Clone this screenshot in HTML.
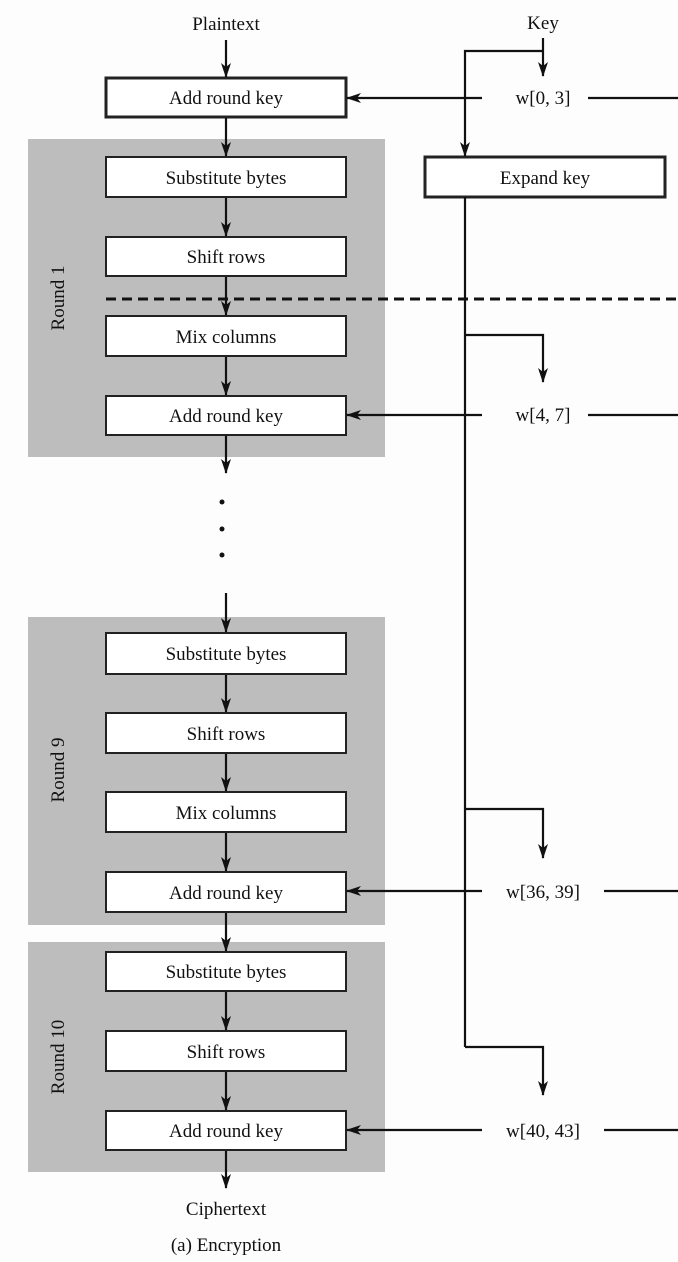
<!DOCTYPE html>
<html><head><meta charset="utf-8"><style>
html,body{margin:0;padding:0;background:#fdfdfd;}
svg{display:block;}
text{font-family:"Liberation Serif",serif;font-size:19px;fill:#111;}
</style></head><body>
<svg width="678" height="1262" viewBox="0 0 678 1262" xmlns="http://www.w3.org/2000/svg">
<defs>
<marker id="a" markerWidth="15" markerHeight="11" refX="14" refY="5.5" orient="auto" markerUnits="userSpaceOnUse" viewBox="0 0 15 11">
<path d="M0,0.5 L15,5.5 L0,10.5 L4,5.5 Z" fill="#111"/></marker>
</defs>
<rect width="678" height="1262" fill="#fdfdfd"/>
<rect x="28" y="139" width="357" height="318" fill="#bdbdbd"/>
<rect x="28" y="617" width="357" height="308" fill="#bdbdbd"/>
<rect x="28" y="942" width="357" height="230" fill="#bdbdbd"/>
<g fill="#111">
<text x="226" y="30" text-anchor="middle">Plaintext</text>
<text x="543" y="29" text-anchor="middle">Key</text>
<text x="226" y="1215" text-anchor="middle">Ciphertext</text>
<text x="226" y="1251" text-anchor="middle">(a) Encryption</text>
<text x="543" y="104" text-anchor="middle">w[0, 3]</text>
<text x="543" y="421" text-anchor="middle">w[4, 7]</text>
<text x="543" y="898" text-anchor="middle">w[36, 39]</text>
<text x="543" y="1137" text-anchor="middle">w[40, 43]</text>
<text transform="translate(64,298) rotate(-90)" text-anchor="middle">Round 1</text>
<text transform="translate(64,770) rotate(-90)" text-anchor="middle">Round 9</text>
<text transform="translate(64,1057) rotate(-90)" text-anchor="middle">Round 10</text>
</g>
<g stroke="#222" fill="#fff">
<rect x="106" y="78" width="240" height="39" stroke-width="3"/>
<rect x="425" y="157" width="240" height="40" stroke-width="3"/>
<rect x="106" y="157" width="240" height="40" stroke-width="2"/>
<rect x="106" y="237" width="240" height="39" stroke-width="2"/>
<rect x="106" y="316" width="240" height="40" stroke-width="2"/>
<rect x="106" y="396" width="240" height="39" stroke-width="2"/>
<rect x="106" y="633" width="240" height="41" stroke-width="2"/>
<rect x="106" y="713" width="240" height="40" stroke-width="2"/>
<rect x="106" y="792" width="240" height="40" stroke-width="2"/>
<rect x="106" y="872" width="240" height="40" stroke-width="2"/>
<rect x="106" y="952" width="240" height="39" stroke-width="2"/>
<rect x="106" y="1031" width="240" height="40" stroke-width="2"/>
<rect x="106" y="1111" width="240" height="39" stroke-width="2"/>
</g>
<g text-anchor="middle">
<text x="226" y="104">Add round key</text>
<text x="545" y="184">Expand key</text>
<text x="226" y="184">Substitute bytes</text>
<text x="226" y="263">Shift rows</text>
<text x="226" y="343">Mix columns</text>
<text x="226" y="422">Add round key</text>
<text x="226" y="660">Substitute bytes</text>
<text x="226" y="740">Shift rows</text>
<text x="226" y="819">Mix columns</text>
<text x="226" y="899">Add round key</text>
<text x="226" y="978">Substitute bytes</text>
<text x="226" y="1058">Shift rows</text>
<text x="226" y="1137">Add round key</text>
</g>
<g stroke="#111" stroke-width="2.2" fill="none" marker-end="url(#a)">
<line x1="226" y1="40" x2="226" y2="77"/>
<line x1="226" y1="118" x2="226" y2="156"/>
<line x1="226" y1="198" x2="226" y2="236"/>
<line x1="226" y1="277" x2="226" y2="315"/>
<line x1="226" y1="357" x2="226" y2="395"/>
<line x1="226" y1="436" x2="226" y2="473"/>
<line x1="226" y1="593" x2="226" y2="632"/>
<line x1="226" y1="675" x2="226" y2="712"/>
<line x1="226" y1="754" x2="226" y2="791"/>
<line x1="226" y1="833" x2="226" y2="871"/>
<line x1="226" y1="913" x2="226" y2="951"/>
<line x1="226" y1="992" x2="226" y2="1030"/>
<line x1="226" y1="1072" x2="226" y2="1110"/>
<line x1="226" y1="1151" x2="226" y2="1188"/>
<line x1="543" y1="38" x2="543" y2="76"/>
<polyline points="543,51 465,51 465,156"/>
<polyline points="465,335 543,335 543,382"/>
<polyline points="465,809 543,809 543,858"/>
<polyline points="465,1047 543,1047 543,1095"/>
<line x1="482" y1="98" x2="347" y2="98"/>
<line x1="482" y1="415" x2="347" y2="415"/>
<line x1="482" y1="891" x2="347" y2="891"/>
<line x1="482" y1="1130" x2="347" y2="1130"/>
</g>
<g stroke="#111" stroke-width="2.2">
<line x1="465" y1="197" x2="465" y2="1047"/>
<line x1="588" y1="98" x2="678" y2="98"/>
<line x1="588" y1="415" x2="678" y2="415"/>
<line x1="604" y1="891" x2="678" y2="891"/>
<line x1="604" y1="1130" x2="678" y2="1130"/>
<line x1="106" y1="299" x2="678" y2="299" stroke-width="3" stroke-dasharray="10,6"/>
</g>
<g fill="#111">
<circle cx="222" cy="502" r="2.5"/>
<circle cx="222" cy="529" r="2.5"/>
<circle cx="222" cy="555" r="2.5"/>
</g>
</svg>
</body></html>
